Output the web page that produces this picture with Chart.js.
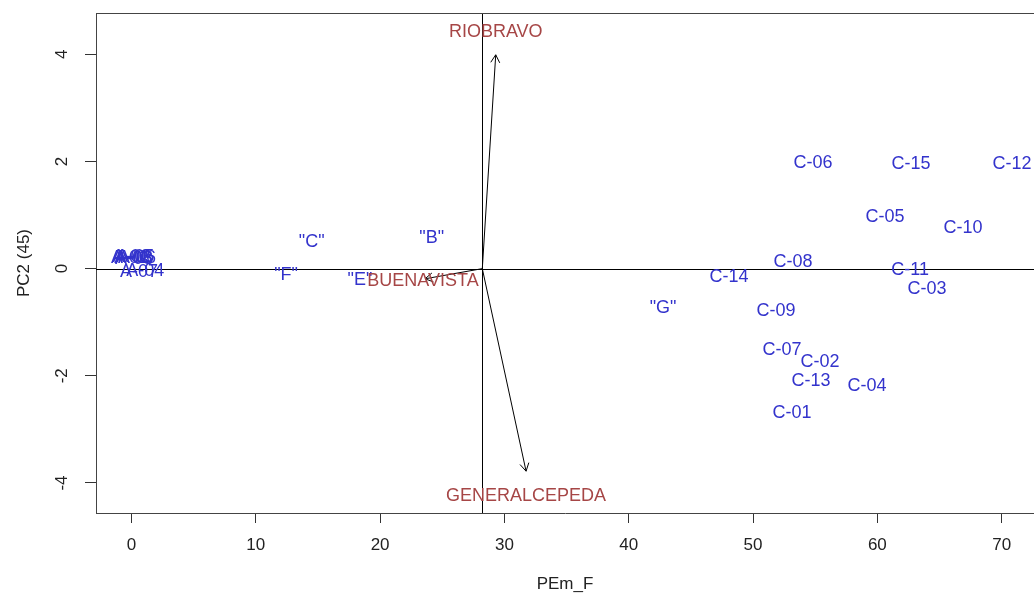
<!DOCTYPE html>
<html>
<head>
<meta charset="utf-8">
<script src="https://cdn.jsdelivr.net/npm/chart.js@4.4.0/dist/chart.umd.min.js"></script>
<style>
  body { margin: 0; background: #fff; }
  canvas { display: block; }
</style>
</head>
<body>
<canvas id="myChart" width="1034" height="594"></canvas>
<script>
// site scores
const siteNames = ['A-01', 'A-02', 'A-03', 'A-05', 'A-06', 'A-08', 'A-07', 'A-04',
  '"C"', '"B"', '"F"', '"E"', '"G"',
  'C-06', 'C-15', 'C-12', 'C-05', 'C-10', 'C-08', 'C-11', 'C-14', 'C-03',
  'C-09', 'C-07', 'C-02', 'C-13', 'C-04', 'C-01'];
const siteX = [-0.12, 0.0, 0.15, 0.3, 0.44, 0.2, 0.6, 1.1,
  14.5, 24.15, 12.43, 18.38, 42.76,
  54.83, 62.71, 70.84, 60.62, 66.89, 53.22, 62.63, 48.07, 63.99,
  51.85, 52.33, 55.39, 54.67, 59.17, 53.13];
const siteY = [0.2, 0.22, 0.19, 0.21, 0.2, 0.18, -0.06, -0.05,
  0.5, 0.57, -0.12, -0.21, -0.73,
  1.97, 1.95, 1.95, 0.96, 0.76, 0.13, -0.02, -0.15, -0.39,
  -0.8, -1.51, -1.74, -2.09, -2.2, -2.69];

// variable arrows
const varNames = ['RIOBRAVO', 'GENERALCEPEDA', 'BUENAVISTA'];
const varX = [29.3, 31.74, 23.61];
const varY = [3.99, -3.78, -0.19];
const varLabelX = [29.3, 31.74, 23.45];
const varLabelY = [4.42, -4.24, -0.24];
const originX = 28.22;
const originY = 0;

// axes
const xTicks = [0, 10, 20, 30, 40, 50, 60, 70];
const yTicks = [-4, -2, 0, 2, 4];
const xMin = -2.856, xMax = 72.6;
const yMin = -4.56, yMax = 4.77;

const FONT = "'Liberation Sans', Arial, sans-serif";
const BLUE = '#3333cc';
const RED = '#a64646';

function points(xs, ys) {
  return xs.map((v, i) => ({ x: v, y: ys[i] }));
}

const biplot = {
  id: 'biplot',
  beforeDatasetsDraw(chart) {
    const { ctx, chartArea: a, scales: { x, y } } = chart;
    ctx.save();
    ctx.lineWidth = 1;
    ctx.strokeStyle = '#000';
    const px = Math.round(x.getPixelForValue(originX)) + 0.5;
    const py = Math.round(y.getPixelForValue(originY)) + 0.5;
    ctx.beginPath();
    ctx.moveTo(px, a.top);
    ctx.lineTo(px, a.bottom);
    ctx.moveTo(a.left, py);
    ctx.lineTo(a.right, py);
    ctx.stroke();
    // top of the box
    ctx.strokeStyle = '#444';
    ctx.beginPath();
    ctx.moveTo(a.left, a.top + 0.5);
    ctx.lineTo(a.right, a.top + 0.5);
    ctx.stroke();
    ctx.restore();
  },
  afterDatasetsDraw(chart) {
    const ctx = chart.ctx;
    ctx.save();
    chart.data.datasets.forEach((ds, i) => {
      const els = chart.getDatasetMeta(i).data;
      if (ds.arrow) {
        const p0 = els[0], p1 = els[1];
        const ang = Math.atan2(p1.y - p0.y, p1.x - p0.x);
        const len = 9;
        ctx.strokeStyle = '#000';
        ctx.lineWidth = 1;
        ctx.beginPath();
        ctx.moveTo(p1.x - len * Math.cos(ang - Math.PI / 6), p1.y - len * Math.sin(ang - Math.PI / 6));
        ctx.lineTo(p1.x, p1.y);
        ctx.lineTo(p1.x - len * Math.cos(ang + Math.PI / 6), p1.y - len * Math.sin(ang + Math.PI / 6));
        ctx.stroke();
      }
      if (ds.labels) {
        ctx.font = '18px ' + FONT;
        ctx.fillStyle = ds.labelColor;
        ctx.textAlign = 'center';
        ctx.textBaseline = 'middle';
        els.forEach((el, j) => ctx.fillText(ds.labels[j], el.x, el.y));
      }
    });
    ctx.restore();
  }
};

const arrowSets = varNames.map((n, i) => ({
  label: n,
  data: [{ x: originX, y: originY }, { x: varX[i], y: varY[i] }],
  showLine: true,
  borderColor: '#000',
  borderWidth: 1,
  pointRadius: 0,
  arrow: true
}));

const ctx = document.getElementById('myChart');
new Chart(ctx, {
  type: 'scatter',
  data: {
    datasets: [
      { label: 'sites', data: points(siteX, siteY), pointRadius: 0, labels: siteNames, labelColor: BLUE },
      ...arrowSets,
      { label: 'variables', data: points(varLabelX, varLabelY), pointRadius: 0, labels: varNames, labelColor: RED }
    ]
  },
  options: {
    responsive: false,
    animation: false,
    layout: { padding: { top: 13, right: 0, bottom: 0, left: 0 } },
    plugins: { legend: { display: false }, tooltip: { enabled: false } },
    scales: {
      x: {
        type: 'linear',
        min: xMin,
        max: xMax,
        afterBuildTicks: s => { s.ticks = xTicks.map(v => ({ value: v })); },
        afterFit: s => { s.height = 81; s.paddingLeft = 0; s.paddingRight = 0; },
        grid: { drawOnChartArea: false, drawTicks: true, tickLength: 10, tickColor: '#333', tickWidth: 1 },
        border: { display: true, color: '#444', width: 1 },
        ticks: { autoSkip: false, maxRotation: 0, padding: 12, color: '#222',
          font: { family: FONT, size: 17 }, callback: v => String(v) },
        title: { display: true, text: 'PEm_F', color: '#222', font: { family: FONT, size: 17 },
          padding: { top: 0, bottom: -1 } }
      },
      y: {
        type: 'linear',
        min: yMin,
        max: yMax,
        afterBuildTicks: s => { s.ticks = yTicks.map(v => ({ value: v })); },
        afterFit: s => { s.width = 96; s.paddingTop = 0; s.paddingBottom = 0; },
        grid: { drawOnChartArea: false, drawTicks: true, tickLength: 11, tickColor: '#333', tickWidth: 1 },
        border: { display: true, color: '#444', width: 1 },
        ticks: { autoSkip: false, minRotation: 90, maxRotation: 90, crossAlign: 'center', padding: 15.5,
          color: '#222', font: { family: FONT, size: 17 }, callback: v => String(v) },
        title: { display: true, text: 'PC2 (45)', color: '#222', font: { family: FONT, size: 17 },
          padding: { top: 14, bottom: 0 } }
      }
    }
  },
  plugins: [biplot]
});
</script>
</body>
</html>
